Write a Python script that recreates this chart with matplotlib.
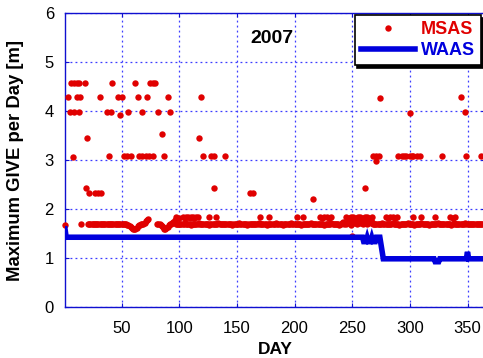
import numpy as np
import matplotlib
matplotlib.use("Agg")
import matplotlib.pyplot as plt
from matplotlib.lines import Line2D

plt.rcParams['font.family'] = ['Liberation Sans', 'DejaVu Sans']

nan = np.nan

# MSAS maximum GIVE, one value per day (day 1 .. 365), nan = no point
msas_base = [
    1.68, nan, nan, nan, nan, nan, nan, nan, nan, nan,
    nan, nan, nan, nan, 1.69, nan, nan, nan, nan, nan,
    1.70, 1.69, 1.70, 1.70, 1.69, 1.70, 1.71, 1.70, 1.69, 1.70,
    1.70, 1.70, 1.69, 1.70, 1.70, 1.71, 1.70, 1.69, 1.70, 1.70,
    1.70, 1.69, 1.70, 1.70, 1.70, 1.69, 1.70, 1.71, 1.70, 1.70,
    1.70, 1.69, 1.70, 1.69, 1.68, 1.67, 1.66, 1.64, 1.62, 1.60,
    1.59, 1.60, 1.62, 1.65, 1.67, 1.68, 1.69, 1.70, 1.71, 1.73,
    1.76, 1.79, 1.81, nan, nan, nan, nan, nan, nan, nan,
    1.69, 1.70, 1.69, 1.68, 1.66, 1.63, 1.60, 1.59, 1.61, 1.64,
    1.67, 1.69, 1.70, 1.72, 1.75, 1.78, 1.70, 1.70, 1.69, 1.70,
    1.71, 1.70, 1.69, 1.70, 1.72, 1.70, 1.69, 1.71, 1.70, 1.68,
    1.70, 1.71, 1.70, 1.69, 1.70, 1.70, 1.72, 1.70, 1.69, 1.70,
    1.70, 1.69, 1.71, 1.70, 1.70, 1.68, 1.70, 1.71, 1.70, 1.69,
    1.70, 1.70, 1.69, 1.72, 1.70, 1.70, 1.69, 1.71, 1.70, 1.70,
    1.69, 1.70, 1.70, 1.71, 1.70, 1.68, 1.70, 1.70, 1.71, 1.69,
    1.70, 1.72, 1.70, 1.69, 1.70, 1.70, 1.71, 1.70, 1.68, 1.70,
    1.70, 1.69, 1.70, 1.71, 1.70, 1.70, 1.69, 1.70, 1.72, 1.70,
    1.71, 1.70, 1.69, 1.70, 1.70, 1.68, 1.70, 1.71, 1.70, 1.70,
    1.69, 1.70, 1.70, 1.72, 1.70, 1.69, 1.71, 1.70, 1.70, 1.68,
    1.70, 1.71, 1.70, 1.69, 1.70, 1.70, 1.72, 1.70, 1.69, 1.70,
    1.70, 1.69, 1.71, 1.70, 1.70, 1.68, 1.70, 1.71, 1.70, 1.69,
    1.70, 1.70, 1.69, 1.72, 1.70, 1.70, 1.69, 1.71, 1.70, 1.70,
    1.69, 1.70, 1.70, 1.71, 1.70, 1.68, 1.70, 1.70, 1.71, 1.69,
    1.70, 1.72, 1.70, 1.69, 1.70, 1.70, 1.71, 1.70, 1.68, 1.70,
    1.72, 1.74, 1.71, 1.73, 1.70, 1.74, 1.72, 1.75, 1.67, 1.73,
    1.74, 1.72, 1.75, 1.71, 1.74, 1.72, 1.75, 1.73, 1.71, 1.74,
    1.72, 1.75, 1.71, 1.73, 1.74, 1.72, 1.75, 1.71, 1.70, 1.69,
    1.70, 1.70, 1.71, 1.69, 1.70, 1.72, 1.70, 1.69, 1.70, 1.71,
    1.70, 1.69, 1.70, 1.70, 1.72, 1.70, 1.69, 1.71, 1.70, 1.70,
    1.68, 1.70, 1.71, 1.70, 1.69, 1.70, 1.70, 1.72, 1.70, 1.69,
    1.70, 1.71, 1.70, 1.68, 1.70, 1.70, 1.69, 1.71, 1.70, 1.72,
    1.70, 1.69, 1.70, 1.70, 1.71, 1.70, 1.68, 1.70, 1.70, 1.69,
    1.71, 1.70, 1.70, 1.72, 1.70, 1.69, 1.70, 1.71, 1.70, 1.70,
    1.69, 1.70, 1.70, 1.71, 1.70, 1.68, 1.70, 1.72, 1.70, 1.69,
    1.70, 1.70, 1.71, 1.70, 1.69, 1.70, 1.70, 1.72, 1.70, 1.69,
    1.70, 1.71, 1.70, 1.70, 1.69, 1.70, 1.70, 1.71, 1.70, 1.70,
    1.69, 1.70, 1.70, 1.71, 1.70,
]

# extra MSAS points lying off the 1.7 m band
msas_hi_day = [
    97, 100, 103, 105, 106, 108, 109, 110, 112, 113, 115, 116, 126, 132,
    170, 178, 202, 207, 222, 224, 226, 228, 230, 232, 245, 247, 249, 251,
    253, 255, 257, 259, 261, 263, 265, 267, 279, 281, 283, 285, 287, 289,
    303, 310, 322, 335, 337, 339,
    6, 9, 11, 13, 18, 42, 62, 75, 77, 79,
    4, 11, 14, 31, 47, 50, 64, 72, 90, 119, 274, 344,
    5, 9, 13, 37, 41, 49, 56, 68, 82, 92, 300, 348,
    20, 85, 117,
    8, 39, 52, 55, 58, 65, 68, 71, 74, 77, 87, 121, 128, 130, 140,
    268, 271, 273, 290, 293, 295, 297, 300, 302, 303, 306, 309, 328, 349, 362,
    271, 19, 130, 261, 22, 27, 30, 32, 161, 164, 216, 250,
]
msas_hi_give = [
    1.84, 1.83, 1.84, 1.83, 1.84, 1.84, 1.83, 1.84, 1.84, 1.83, 1.84, 1.84, 1.84, 1.84,
    1.84, 1.84, 1.84, 1.84, 1.84, 1.83, 1.84, 1.84, 1.83, 1.84, 1.84, 1.83, 1.84, 1.84,
    1.83, 1.84, 1.84, 1.83, 1.84, 1.84, 1.83, 1.84, 1.84, 1.83, 1.84, 1.84, 1.83, 1.84,
    1.84, 1.84, 1.84, 1.84, 1.83, 1.84,
    4.57, 4.57, 4.57, 4.57, 4.57, 4.57, 4.57, 4.57, 4.57, 4.57,
    4.30, 4.30, 4.30, 4.30, 4.30, 4.30, 4.30, 4.30, 4.30, 4.30, 4.27, 4.30,
    3.99, 3.99, 3.99, 3.99, 3.99, 3.93, 3.99, 3.99, 3.99, 3.98, 3.96, 3.99,
    3.45, 3.53, 3.45,
    3.07, 3.09, 3.09, 3.09, 3.09, 3.09, 3.08, 3.09, 3.09, 3.08, 3.09, 3.09, 3.09, 3.09, 3.09,
    3.09, 3.09, 3.09, 3.09, 3.09, 3.09, 3.09, 3.09, 3.09, 3.09, 3.09, 3.09, 3.09, 3.09, 3.09,
    2.98, 2.43, 2.43, 2.43, 2.33, 2.33, 2.33, 2.33, 2.33, 2.33, 2.21, 1.46,
]

# WAAS maximum GIVE (line break points)
waas_day = [1, 2, 259, 260, 262, 263, 264, 266, 267, 268, 270, 271, 274, 277,
            321, 322, 325, 326, 349, 350, 351, 365]
waas_give = [1.60, 1.43, 1.43, 1.34, 1.34, 1.42, 1.34, 1.34, 1.42, 1.34, 1.34, 1.43, 1.43, 0.99,
             0.99, 0.93, 0.93, 0.99, 0.99, 1.13, 0.99, 0.99]

red = '#e00000'
blue = '#0000dd'

fig = plt.figure(figsize=(4.83, 3.58), dpi=100)
ax = fig.add_axes([65 / 483, 1 - 307.3 / 358, 419.8 / 483, 294 / 358])

days = np.arange(1, len(msas_base) + 1)
ax.plot(days, msas_base, 'o', color=red, ms=4.6, mew=0, zorder=3, clip_on=False)
ax.plot(msas_hi_day, msas_hi_give, 'o', color=red, ms=4.6, mew=0, zorder=3)
ax.plot(waas_day, waas_give, '-', color=blue, lw=4, zorder=4, solid_joinstyle='miter')

ax.set_xlim(1, 365)
ax.set_ylim(0, 6)
ax.set_xticks([50, 100, 150, 200, 250, 300, 350])
ax.set_yticks([0, 1, 2, 3, 4, 5, 6])
ax.grid(True, color='#3c3cff', linestyle=(0, (1.5, 2.5)), lw=0.9)
ax.set_axisbelow(True)
for s in ax.spines.values():
    s.set_color('#1010d0')
    s.set_linewidth(1.0)
ax.tick_params(direction='in', length=3, color='#1010d0', labelsize=12,
               top=True, right=True)
ax.tick_params(axis='x', pad=10)
ax.tick_params(axis='y', pad=8)

ax.set_xlabel('DAY', fontsize=12.5, fontweight='bold', labelpad=4)
ax.set_ylabel('Maximum GIVE per Day [m]', fontsize=13.3, fontweight='bold')
ax.yaxis.set_label_coords(-0.098, 0.5)

ax.text(0.493, 0.913, '2007', transform=ax.transAxes, ha='center', va='center',
        fontsize=14, fontweight='bold')

handles = [Line2D([], [], ls='none', marker='o', color=red, ms=4.6, mew=0),
           Line2D([], [], color=blue, lw=4)]
leg = ax.legend(handles, ['MSAS', 'WAAS'], loc='upper right',
                bbox_to_anchor=(481 / 483, 1 - 15 / 358), bbox_transform=fig.transFigure,
                borderaxespad=0, fancybox=False, framealpha=1, edgecolor='black',
                shadow={'color': 'black', 'alpha': 1}, handlelength=3.0, handletextpad=0.3,
                labelspacing=0.2, borderpad=0.35, numpoints=1,
                prop={'size': 13, 'weight': 'bold'})
leg.get_frame().set_linewidth(1.2)
leg.get_texts()[0].set_color(red)
leg.get_texts()[1].set_color(blue)

fig.savefig('out.png', dpi=100, facecolor='white')
